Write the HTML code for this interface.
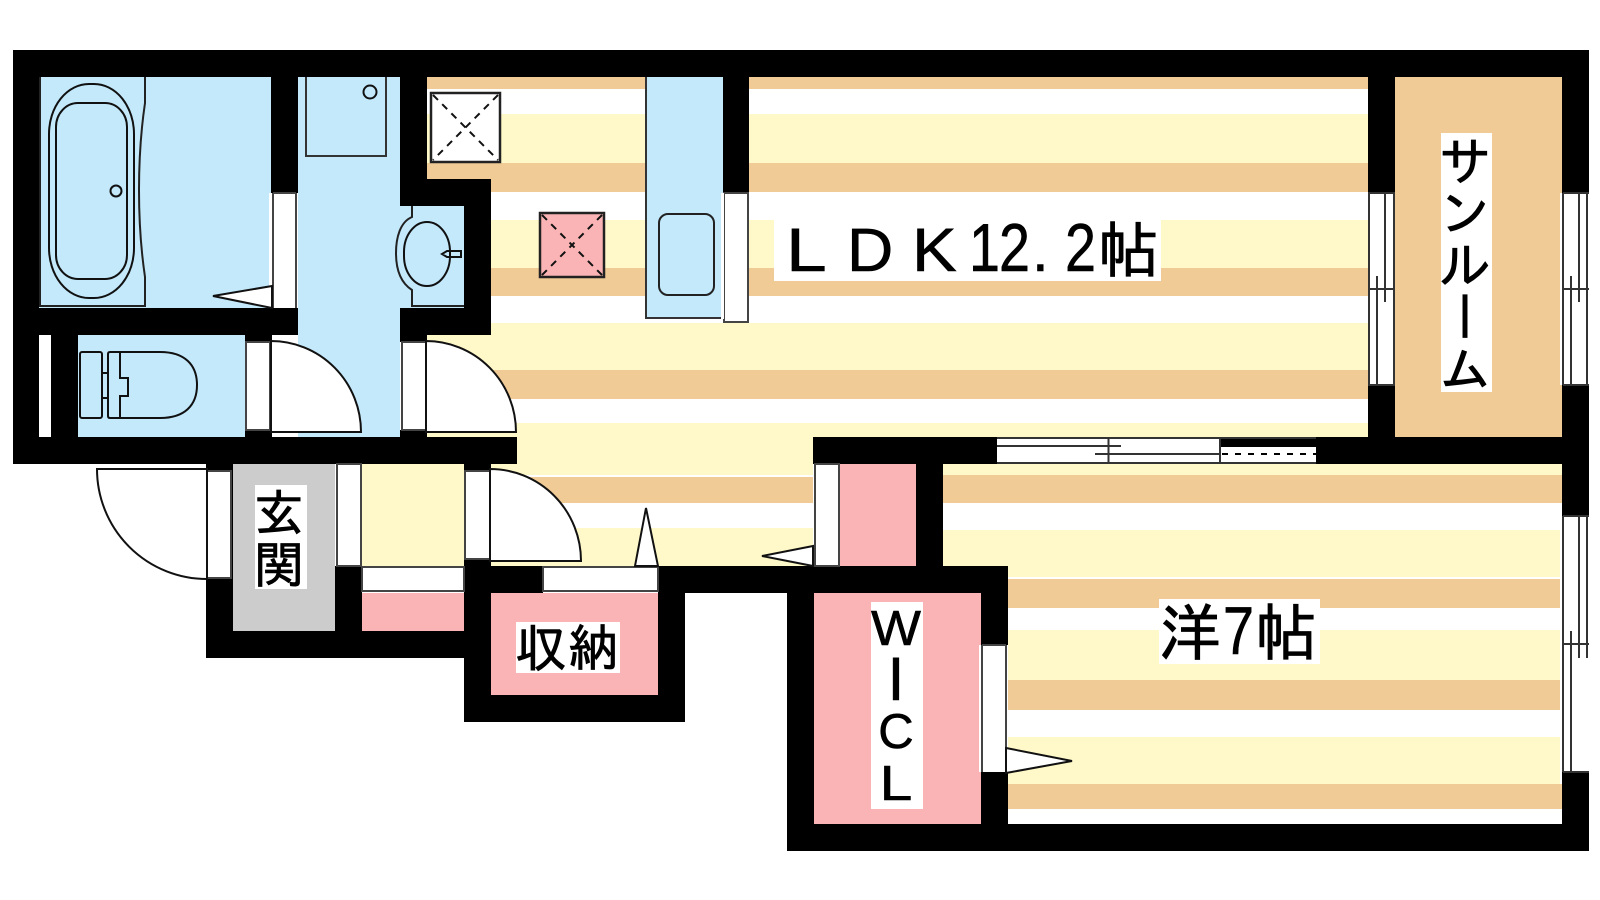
<!DOCTYPE html>
<html><head><meta charset="utf-8"><style>html,body{margin:0;padding:0;background:#fff}svg{display:block}</style></head><body>
<svg xmlns="http://www.w3.org/2000/svg" width="1600" height="900" viewBox="0 0 1600 900">
<defs><style>
.o{fill:#F0CB96}.c{fill:#FFF8C8}.b{fill:#C3E9FB}.p{fill:#FBB4B5}.k{fill:#000}.w{fill:#fff}
.f{fill:#fff;stroke:#444;stroke-width:2}
.l{fill:none;stroke:#111;stroke-width:2}
.t{fill:#000;stroke:#000;stroke-width:.8;font-family:"IPAGothic","Noto Sans CJK JP",sans-serif}
.s{fill:#000;stroke:#000;stroke-width:.6;font-family:"Liberation Sans",sans-serif}
</style></defs>
<rect width="1600" height="900" fill="#fff"/>
<!-- LDK stripes -->
<g class="o">
<rect x="427" y="77" width="941" height="12"/><rect x="427" y="163" width="941" height="29"/>
<rect x="427" y="268" width="941" height="28"/><rect x="427" y="370" width="941" height="29"/>
<rect x="491" y="477" width="322" height="26"/>
</g>
<g class="c">
<rect x="427" y="114" width="941" height="49"/><rect x="427" y="220" width="941" height="48"/>
<rect x="427" y="323" width="941" height="47"/><rect x="427" y="423" width="941" height="14"/>
<rect x="491" y="437" width="322" height="38"/><rect x="491" y="528" width="322" height="38"/>
</g>
<!-- western room stripes -->
<g class="c">
<rect x="943" y="464" width="619" height="11"/><rect x="943" y="530" width="617" height="47"/>
<rect x="943" y="630" width="617" height="50"/><rect x="943" y="737" width="617" height="47"/>
</g>
<g class="o">
<rect x="943" y="475" width="619" height="28"/><rect x="943" y="579" width="617" height="29"/>
<rect x="943" y="680" width="617" height="30"/><rect x="943" y="784" width="619" height="25"/>
</g>
<!-- rooms -->
<rect class="b" x="39" y="77" width="232" height="231"/>
<rect class="b" x="298" y="77" width="102" height="360"/>
<rect class="b" x="400" y="206" width="64" height="102"/>
<rect class="b" x="78" y="335" width="167" height="102"/>
<rect class="b" x="646" y="77" width="77" height="241"/>
<rect class="o" x="1395" y="77" width="167" height="360"/>
<rect fill="#CCCCCC" x="233" y="464" width="102" height="167"/>
<rect class="c" x="362" y="464" width="102" height="102"/>
<rect class="p" x="362" y="593" width="102" height="38"/>
<rect class="p" x="491" y="593" width="167" height="102"/>
<rect class="p" x="840" y="464" width="76" height="102"/>
<rect class="p" x="814" y="593" width="167" height="231"/>
<!-- walls -->
<g class="k">
<rect x="13" y="50" width="1576" height="27"/>
<rect x="13" y="50" width="26" height="414"/>
<rect x="13" y="437" width="504" height="27"/>
<rect x="271" y="77" width="27" height="116"/>
<rect x="13" y="308" width="285" height="27"/>
<rect x="51" y="335" width="27" height="102"/>
<rect x="245" y="335" width="27" height="7"/><rect x="245" y="430" width="27" height="7"/>
<rect x="400" y="77" width="27" height="129"/>
<rect x="400" y="179" width="91" height="27"/>
<rect x="464" y="179" width="27" height="156"/>
<rect x="400" y="308" width="91" height="27"/>
<rect x="400" y="335" width="27" height="7"/><rect x="400" y="430" width="27" height="7"/>
<rect x="723" y="77" width="26" height="116"/>
<rect x="206" y="464" width="27" height="194"/>
<rect x="206" y="631" width="285" height="27"/>
<rect x="335" y="566" width="27" height="92"/>
<rect x="464" y="464" width="27" height="258"/>
<rect x="464" y="695" width="221" height="27"/>
<rect x="658" y="566" width="27" height="156"/>
<rect x="464" y="566" width="79" height="27"/>
<rect x="658" y="566" width="350" height="27"/>
<rect x="787" y="566" width="27" height="285"/>
<rect x="787" y="824" width="802" height="27"/>
<rect x="981" y="566" width="27" height="79"/>
<rect x="981" y="772" width="27" height="52"/>
<rect x="813" y="437" width="184" height="27"/>
<rect x="1220" y="437" width="369" height="27"/>
<rect x="916" y="464" width="27" height="102"/>
<rect x="1368" y="77" width="27" height="116"/><rect x="1368" y="385" width="27" height="52"/>
<rect x="1562" y="77" width="27" height="116"/><rect x="1562" y="385" width="27" height="131"/>
<rect x="1562" y="772" width="27" height="79"/>
</g>
<!-- slot beside toilet -->
<rect class="w" x="39" y="335" width="12" height="102"/>
<!-- door frames -->
<rect class="w" x="269" y="193" width="29" height="115"/>
<path class="l" d="M273 193V308M296 193V308M273 193H296" style="stroke:#444"/>
<path class="f" d="M272 286L213 296L272 308Z" style="stroke:#111"/>
<rect class="f" x="246" y="342" width="24" height="88"/>
<path class="f" d="M271 341A90 91 0 0 1 361 432H271Z" style="stroke:#111"/>
<rect class="f" x="402" y="342" width="24" height="88"/>
<path class="f" d="M426 341A90 91 0 0 1 516 432H426Z" style="stroke:#111"/>
<rect class="f" x="465" y="471" width="25" height="88"/>
<path class="f" d="M490 469A91 92 0 0 1 581 561H490Z" style="stroke:#111"/>
<rect class="f" x="207" y="471" width="24" height="107"/>
<path class="f" d="M207 469H97A110 110 0 0 0 207 579Z" style="stroke:#111"/>
<rect class="f" x="337" y="464" width="24" height="102"/>
<rect class="f" x="362" y="567" width="102" height="24"/>
<rect class="f" x="543" y="567" width="115" height="24"/>
<path class="f" d="M635 566L646 508L658 566Z" style="stroke:#111"/>
<rect class="f" x="815" y="464" width="24" height="102"/>
<path class="f" d="M813 546L762 556L813 566Z" style="stroke:#111"/>
<rect class="w" x="979" y="645" width="29" height="127"/>
<path class="l" d="M982 645V772M1006 645V772M982 645H1006" style="stroke:#444"/>
<path class="f" d="M1006 748L1072 761L1006 773Z" style="stroke:#111"/>
<rect class="f" x="724" y="193" width="24" height="129"/>
<rect class="w" x="721" y="193" width="3" height="126"/>
<path d="M646 77V318H721" fill="none" stroke="#333" stroke-width="2"/>
<rect x="659" y="214" width="55" height="81" rx="9" fill="none" stroke="#222" stroke-width="2"/>
<!-- sliding door -->
<rect class="w" x="997" y="438" width="223" height="25"/>
<rect class="w" x="1220" y="447" width="96" height="16"/>
<g fill="none" stroke="#333" stroke-width="2">
<path d="M997 438H1316M997 463H1316M997 446H1121M1095 454H1220M1108.500 437V464M1220 437V464"/>
<path d="M1222 454H1316" stroke-dasharray="6 7" stroke="#000"/>
</g>
<!-- sunroom & side windows -->
<rect class="w" x="1368" y="193" width="27" height="192"/>
<rect class="w" x="1560" y="193" width="29" height="192"/>
<rect class="w" x="1560" y="516" width="29" height="256"/>
<g fill="none" stroke="#333" stroke-width="2">
<path d="M1369 193V385M1394 193V385M1368 193H1395M1368 385H1395M1385 193V302M1377 276V385M1368 289H1395"/>
<path d="M1563 193V385M1587 193V385M1563 193H1589M1563 385H1589M1579 193V302M1571 276V385M1563 289H1589"/>
<path d="M1563 516V772M1587 516V658M1563 516H1589M1563 772H1589M1571 631V772M1579 516V658M1563 644H1589"/>
</g>
<!-- bathtub -->
<g class="l">
<rect x="49" y="84" width="85" height="214" rx="40" ry="50"/>
<rect x="56" y="103" width="71" height="176" rx="22" ry="24"/>
<circle cx="116" cy="191" r="5.500"/>
<path d="M40 77V306H145V277C141 250 139 220 139 190C139 160 141 130 145 103V77" stroke="#222"/>
<!-- washer -->
<path d="M306 77V156H386V77" stroke="#333"/>
<circle cx="370" cy="92" r="6.500"/>
<!-- sink -->
<path d="M412 206V217C400 222 396 238 396 253C396 270 401 283 412 290V306H464" stroke="#222"/>
<rect x="404" y="222" width="46" height="64" rx="23" ry="30"/>
<path d="M461 251H447L442 254L447 257H461Z"/>
<!-- toilet -->
<rect x="80" y="352" width="22" height="66" rx="2"/>
<path d="M102 373H108M102 398H108"/>
<path d="M110 352H160C185 352 197 365 197 385C197 405 185 418 160 418H110Q108 418 108 416V354Q108 352 110 352Z"/>
<path d="M120 352V378H128V396H120V418"/>
</g>
<!-- vents -->
<g>
<rect x="431" y="93" width="69" height="69" fill="#fff" stroke="#222" stroke-width="2.500"/>
<path d="M433 95L498 160M498 95L433 160" fill="none" stroke="#111" stroke-width="2" stroke-dasharray="7 6"/>
<rect x="540" y="213" width="64" height="64" fill="#FBB4B5" stroke="#222" stroke-width="2.500"/>
<path d="M542 215L602 275M602 215L542 275" fill="none" stroke="#111" stroke-width="2" stroke-dasharray="7 6"/>
</g>
<!-- labels -->
<rect class="w" x="774" y="220" width="387" height="61"/>
<text class="s" font-size="61" transform="translate(786 271) scale(1.2 1)">L</text>
<text class="s" font-size="61" transform="translate(847 271) scale(1.05 1)">D</text>
<text class="s" font-size="61" transform="translate(912 271) scale(1.1 1)">K</text>
<text class="s" font-size="68" transform="translate(969 271) scale(.82 1)">1</text>
<text class="s" font-size="68" transform="translate(999 271) scale(.82 1)">2</text>
<text class="s" font-size="60" x="1032" y="271">.</text>
<text class="s" font-size="68" transform="translate(1065 271) scale(.82 1)">2</text>
<text class="t" font-size="61" x="1098" y="272">帖</text>
<rect class="w" x="1159" y="599" width="161" height="65"/>
<text class="t" font-size="62" x="1159" y="655">洋</text>
<text class="s" font-size="68" transform="translate(1223 654) scale(.82 1)">7</text>
<text class="t" font-size="62" x="1255" y="655">帖</text>
<rect class="w" x="1441" y="133" width="51" height="259"/>
<text class="t" font-size="52" x="1465" y="134" writing-mode="vertical-rl">サンルーム</text>
<rect class="w" x="255" y="485" width="52" height="104"/>
<text class="t" font-size="50" x="254" y="531">玄</text>
<text class="t" font-size="50" x="254" y="583">関</text>
<rect class="w" x="516" y="622" width="104" height="51"/>
<text class="t" font-size="52" x="515" y="667">収</text>
<text class="t" font-size="50" x="568" y="666">納</text>
<rect class="w" x="871" y="602" width="52" height="207"/>
<text class="s" font-size="49" text-anchor="middle" transform="translate(896 645) scale(1.08 1)">W</text>
<text class="s" font-size="61" x="896" y="700" text-anchor="middle">I</text>
<text class="s" font-size="49" x="896" y="748" text-anchor="middle">C</text>
<text class="s" font-size="49" text-anchor="middle" transform="translate(896 800) scale(1.2 1)">L</text>
</svg>
</body></html>
